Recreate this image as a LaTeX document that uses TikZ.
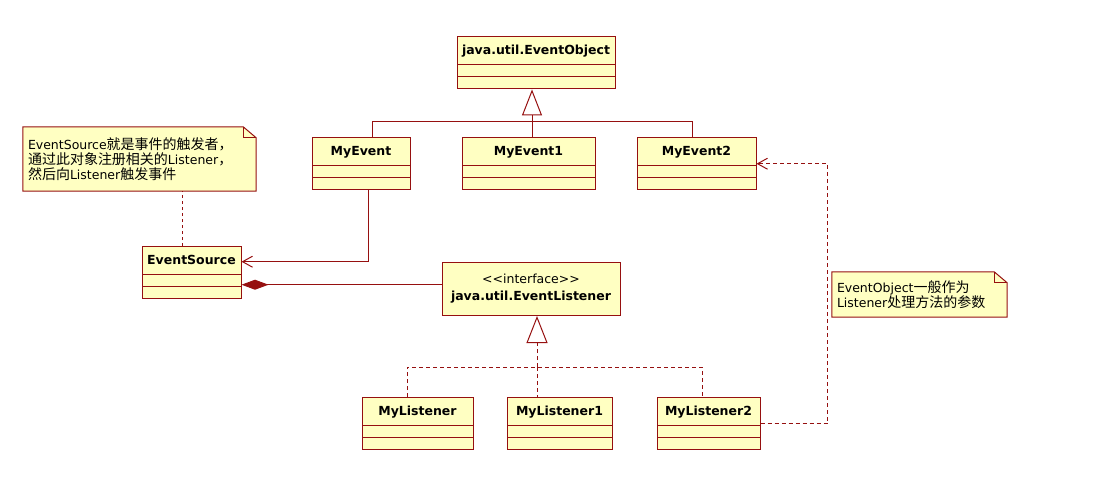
\documentclass[tikz,border=0pt]{standalone}
\usepackage{fontspec}
\setmainfont{DejaVu Sans}
\newfontfamily\cjk[Scale=1.12]{Noto Sans CJK SC}
\usetikzlibrary{arrows.meta,shapes.multipart,backgrounds}
\definecolor{umlred}{RGB}{150,16,16}
\definecolor{umlfill}{RGB}{255,255,194}

\begin{document}
\begin{tikzpicture}[x=1pt,y=1pt,
  klass/.style={draw=umlred,fill=umlfill,line width=1pt,rectangle split,rectangle split parts=3,
    rectangle split empty part height=5pt,inner ysep=3pt,inner xsep=4pt,anchor=north,
    font=\fontsize{12.5}{15}\selectfont\bfseries,
    execute at begin node={\rule[-6.5pt]{0pt}{20.5pt}}},
  iface/.style={draw=umlred,fill=umlfill,line width=1pt,anchor=north,align=center,
    font=\fontsize{12.5}{17}\selectfont},
  memo/.style={inner xsep=5pt,inner ysep=0pt,align=left,font=\fontsize{12.5}{15}\selectfont},
  memoedge/.style={draw=umlred,fill=umlfill,line width=1pt,line join=miter},
  link/.style={umlred,line width=1pt},
  inherit/.style={link,-{Triangle[length=26pt,width=20pt,fill=white]}},
  realize/.style={link,dash pattern=on 4pt off 3pt,-{Triangle[length=27pt,width=21pt,fill=white]}},
  uses/.style={link,-{Straight Barb[length=10pt,width=11pt]}},
  depends/.style={link,dash pattern=on 4pt off 3pt,-{Straight Barb[length=10pt,width=11pt]}},
  owns/.style={link,{Diamond[length=27pt,width=10pt]}-},
  memolink/.style={umlred,line width=1pt,dash pattern=on 3pt off 3pt}
]
  \useasboundingbox (0,0) rectangle (1111,-490);

  % event classes
  \node[klass,minimum width=158pt] (eventobject) at (536,-36) {java.util.EventObject};
  \node[klass,minimum width=98pt] (myevent) at (361,-137) {MyEvent};
  \node[klass,minimum width=133pt] (myevent1) at (528.5,-137) {MyEvent1};
  \node[klass,minimum width=119pt] (myevent2) at (696.5,-137) {MyEvent2};

  % source and listeners
  \node[klass,minimum width=99pt] (eventsource) at (191.5,-246) {EventSource};
  \node[iface,minimum width=178pt,minimum height=53pt] (eventlistener) at (531,-262)
    {<{}<interface>{}>\\\textbf{java.util.EventListener}};
  \node[klass,minimum width=111pt] (mylistener) at (417.5,-397) {MyListener};
  \node[klass,minimum width=105pt] (mylistener1) at (559.5,-397) {MyListener1};
  \node[klass,minimum width=103pt] (mylistener2) at (708.5,-397) {MyListener2};

  % notes
  \node[memo,text width=223pt,minimum height=64pt] (sourcenote) at (139.5,-159)
    {EventSource{\cjk 就是事件的触发者，}\\{\cjk 通过此对象注册相关的}Listener{\cjk ，}\\{\cjk 然后向}Listener{\cjk 触发事件}};
  \node[memo,text width=165pt,minimum height=45pt] (objectnote) at (919.5,-294.5)
    {EventObject{\cjk 一般作为}\\Listener{\cjk 处理方法的参数}};
  \begin{scope}[on background layer]
    \foreach \n in {sourcenote,objectnote} {
      \draw[memoedge] (\n.south west) -- (\n.north west) -- ([xshift=-13pt]\n.north east)
        -- ([yshift=-11pt]\n.north east) -- (\n.south east) -- cycle;
      \draw[link] ([xshift=-13pt]\n.north east) |- ([yshift=-11pt]\n.north east);
    }
  \end{scope}

  % generalization of events
  \coordinate (evjoin) at (532,-121.5);
  \draw[inherit] (evjoin) -- (eventobject.south -| evjoin);
  \draw[link] ([xshift=11pt]myevent.north) |- (evjoin);
  \draw[link] (evjoin) -| ([xshift=-4.5pt]myevent2.north);
  \draw[link] (evjoin) -- (myevent1.north -| evjoin);

  % realization of the listener interface
  \coordinate (lsjoin) at (537,-367);
  \draw[realize] (lsjoin) -- (eventlistener.south -| lsjoin);
  \draw[link,dash pattern=on 4pt off 3pt] ([xshift=-10.5pt]mylistener.north) |- (lsjoin)
    -| ([xshift=-6.5pt]mylistener2.north);
  \draw[link,dash pattern=on 4pt off 3pt] (lsjoin) -- (mylistener1.north -| lsjoin);

  % associations
  \draw[uses] ([xshift=7pt]myevent.south) |- ([yshift=11pt]eventsource.east);
  \draw[owns] ([yshift=-12pt]eventsource.east) -- ([yshift=-12pt]eventsource.east -| eventlistener.west);
  \draw[depends] (mylistener2.east) -- ++(67,0) |- (myevent2.east);
  \draw[memolink] ([xshift=-9.5pt]eventsource.north) -- ([xshift=-9.5pt]eventsource.north |- sourcenote.south);
\end{tikzpicture}
\end{document}
